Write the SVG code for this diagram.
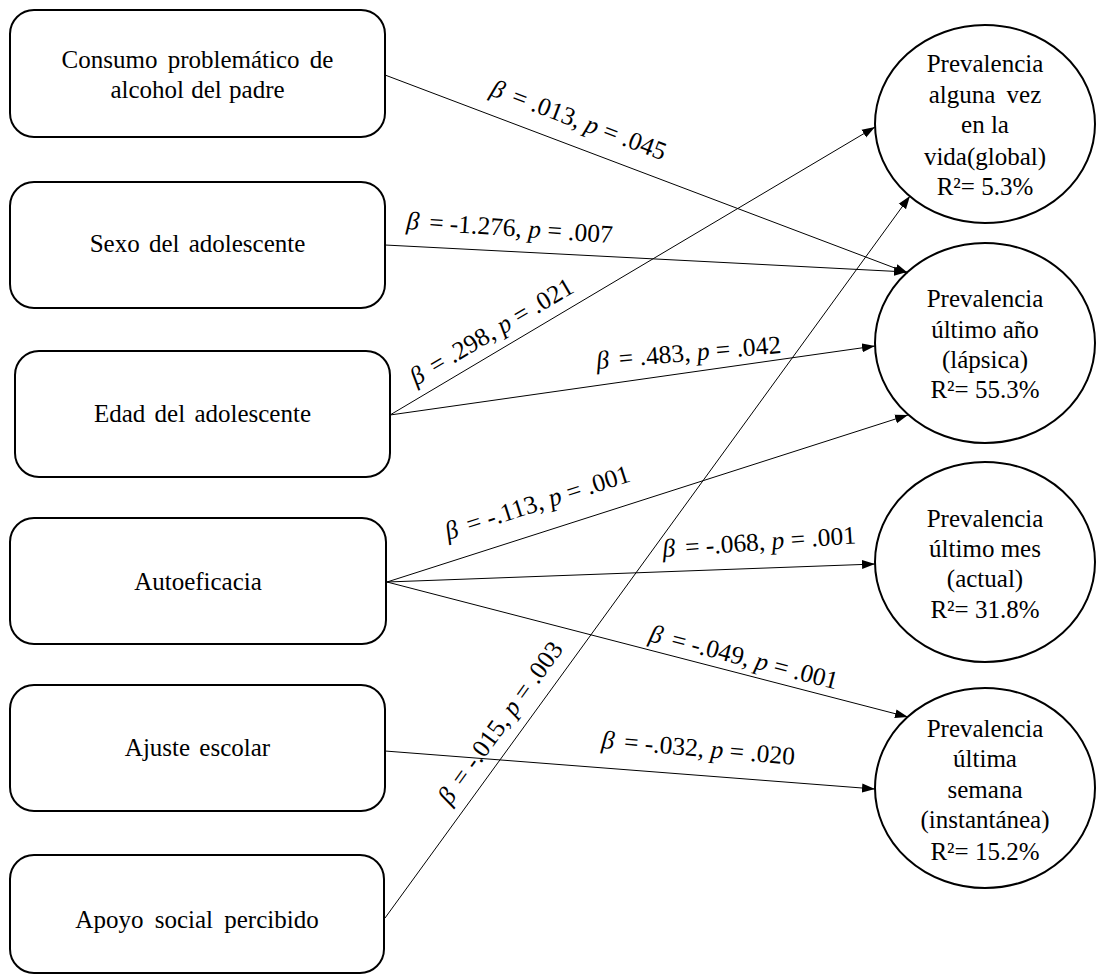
<svg xmlns="http://www.w3.org/2000/svg" width="1097" height="976" viewBox="0 0 1097 976">
<style>
.box{fill:#fff;stroke:#000;stroke-width:2}
.t{font-family:"Liberation Serif","Times New Roman",serif;font-size:25px;fill:#000;text-anchor:middle}
.lab{font-family:"Liberation Serif","Times New Roman",serif;font-size:25.5px;fill:#000}
.it{font-style:italic}
.conn{stroke:#000;stroke-width:1;fill:none;marker-end:url(#arr)}
</style>
<defs>
<marker id="arr" markerUnits="userSpaceOnUse" markerWidth="14" markerHeight="10" refX="13" refY="5" orient="auto">
<path d="M0,0.5 L13,5 L0,9.5 z" fill="#000"/>
</marker>
</defs>
<rect width="1097" height="976" fill="#fff"/>
<g id="n-consumo"><rect class="box" x="10" y="10" width="375" height="127" rx="24"/>
<text class="t" x="197.5" y="68" word-spacing="4">Consumo problemático de</text>
<text class="t" x="197.5" y="98" word-spacing="1">alcohol del padre</text></g>
<g id="n-sexo"><rect class="box" x="10" y="182" width="375" height="126" rx="24"/>
<text class="t" x="197.5" y="252" word-spacing="3">Sexo del adolescente</text></g>
<g id="n-edad"><rect class="box" x="15" y="351" width="375" height="126" rx="24"/>
<text class="t" x="202.5" y="422" word-spacing="3">Edad del adolescente</text></g>
<g id="n-autoeficacia"><rect class="box" x="10" y="518" width="376" height="126" rx="24"/>
<text class="t" x="198" y="590">Autoeficacia</text></g>
<g id="n-ajuste"><rect class="box" x="10" y="685" width="375" height="126" rx="24"/>
<text class="t" x="197.5" y="756" word-spacing="3">Ajuste escolar</text></g>
<g id="n-apoyo"><rect class="box" x="10" y="855" width="374" height="118" rx="24"/>
<text class="t" x="197" y="928" word-spacing="5">Apoyo social percibido</text></g>
<g id="n-global"><ellipse class="box" cx="985" cy="124" rx="110" ry="99"/>
<text class="t" x="985" y="72">Prevalencia</text>
<text class="t" x="985" y="103" word-spacing="5">alguna vez</text>
<text class="t" x="985" y="133">en la</text>
<text class="t" x="985" y="165">vida(global)</text>
<text class="t" x="985" y="195">R²= 5.3%</text></g>
<g id="n-lapsica"><ellipse class="box" cx="985" cy="343" rx="110" ry="100"/>
<text class="t" x="985" y="307">Prevalencia</text>
<text class="t" x="985" y="338">último año</text>
<text class="t" x="985" y="368">(lápsica)</text>
<text class="t" x="985" y="398">R²= 55.3%</text></g>
<g id="n-actual"><ellipse class="box" cx="985" cy="562" rx="110" ry="100"/>
<text class="t" x="985" y="527">Prevalencia</text>
<text class="t" x="985" y="557">último mes</text>
<text class="t" x="985" y="587">(actual)</text>
<text class="t" x="985" y="618">R²= 31.8%</text></g>
<g id="n-instantanea"><ellipse class="box" cx="985" cy="788" rx="110" ry="100"/>
<text class="t" x="985" y="737">Prevalencia</text>
<text class="t" x="985" y="767">última</text>
<text class="t" x="985" y="798">semana</text>
<text class="t" x="985" y="828">(instantánea)</text>
<text class="t" x="985" y="860">R²= 15.2%</text></g>
<g id="connectors">
<line class="conn" x1="385" y1="75" x2="908" y2="273"/>
<line class="conn" x1="385" y1="245" x2="907" y2="272"/>
<line class="conn" x1="390" y1="415" x2="875" y2="127"/>
<line class="conn" x1="390" y1="415" x2="875" y2="346"/>
<line class="conn" x1="387" y1="582" x2="908" y2="415"/>
<line class="conn" x1="387" y1="582" x2="875" y2="564"/>
<line class="conn" x1="387" y1="582" x2="908" y2="717"/>
<line class="conn" x1="385" y1="751" x2="875" y2="789"/>
<line class="conn" x1="385" y1="918" x2="910" y2="196"/>
<text class="lab" transform="translate(489,95) rotate(20.7)"><tspan class="it">β</tspan><tspan dx="10">= .013, </tspan><tspan class="it">p</tspan> = .045</text>
<text class="lab" transform="translate(406,229) rotate(3.9)"><tspan class="it">β</tspan><tspan dx="10">= -1.276, </tspan><tspan class="it">p</tspan> = .007</text>
<text class="lab" transform="translate(416,386) rotate(-30.7)"><tspan class="it">β</tspan><tspan dx="10">= .298, </tspan><tspan class="it">p</tspan> = .021</text>
<text class="lab" transform="translate(597,369) rotate(-5)"><tspan class="it">β</tspan><tspan dx="10">= .483, </tspan><tspan class="it">p</tspan> = .042</text>
<text class="lab" transform="translate(448,540) rotate(-17.8)"><tspan class="it">β</tspan><tspan dx="10">= -.113, </tspan><tspan class="it">p</tspan> = .001</text>
<text class="lab" transform="translate(663,557) rotate(-4)"><tspan class="it">β</tspan><tspan dx="10">= -.068, </tspan><tspan class="it">p</tspan> = .001</text>
<text class="lab" transform="translate(648,641) rotate(14.5)"><tspan class="it">β</tspan><tspan dx="10">= -.049, </tspan><tspan class="it">p</tspan> = .001</text>
<text class="lab" transform="translate(601,748) rotate(5)"><tspan class="it">β</tspan><tspan dx="10">= -.032, </tspan><tspan class="it">p</tspan> = .020</text>
<text class="lab" transform="translate(450,806) rotate(-54)"><tspan class="it">β</tspan><tspan dx="10">= -.015, </tspan><tspan class="it">p</tspan> = .003</text>
</g>
</svg>
